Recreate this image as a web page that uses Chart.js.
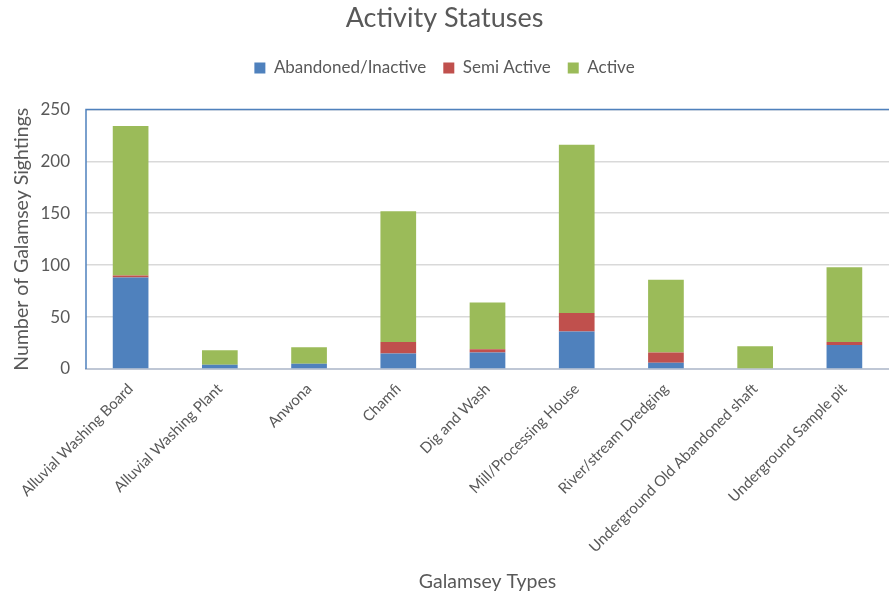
<!DOCTYPE html>
<html>
<head>
<meta charset="utf-8">
<script src="https://cdn.jsdelivr.net/npm/chart.js@4/dist/chart.umd.min.js"></script>
<style>
  html, body { margin: 0; padding: 0; background: #fff; }
</style>
</head>
<body>
<canvas id="chart" width="889" height="595"></canvas>
<script>
"use strict";

var categories = [
	'Alluvial Washing Board',
	'Alluvial Washing Plant',
	'Anwona',
	'Chamfi',
	'Dig and Wash',
	'Mill/Processing House',
	'River/stream Dredging',
	'Underground Old Abandoned shaft',
	'Underground Sample pit'
];
var abandoned = [88, 4, 5, 15, 16, 36, 6, 0, 23];
var semiActive = [2, 0, 0, 11, 3, 18, 10, 0, 3];
var active = [144, 14, 16, 126, 45, 162, 70, 22, 72];
var yTicks = [0, 50, 100, 150, 200, 250];

var textColor = '#595959';
var fontFamily = 'Lato, "Open Sans", sans-serif';

// blue frame on top/left like the excel chart
var frameLines = {
	id: 'frameLines',
	afterDraw: function (chart) {
		var a = chart.chartArea;
		var c = chart.ctx;
		c.save();
		c.strokeStyle = '#4f81bd';
		c.lineWidth = 1.5;
		c.beginPath();
		c.moveTo(a.left, a.bottom);
		c.lineTo(a.left, a.top);
		c.lineTo(a.right, a.top);
		c.stroke();
		c.restore();
	}
};

// extra room under the legend
var legendMargin = {
	id: 'legendMargin',
	beforeInit: function (chart) {
		var fit = chart.legend.fit;
		chart.legend.fit = function () {
			fit.bind(chart.legend)();
			this.height += 23;
		};
	}
};

const context = document.getElementById('chart');
const myChart = new Chart(context, {
	type: 'bar',
	data: {
		labels: categories,
		datasets: [{
			label: 'Abandoned/Inactive',
			data: abandoned,
			backgroundColor: '#4f81bd'
		}, {
			label: 'Semi Active',
			data: semiActive,
			backgroundColor: '#c0504d'
		}, {
			label: 'Active',
			data: active,
			backgroundColor: '#9bbb59'
		}]
	},
	options: {
		responsive: false,
		animation: false,
		layout: { padding: { top: 0, right: 0, bottom: 0, left: 0 } },
		datasets: {
			bar: { barPercentage: 0.4, categoryPercentage: 1 }
		},
		plugins: {
			title: {
				display: true,
				text: 'Activity Statuses',
				color: textColor,
				font: { family: fontFamily, size: 27, weight: 'normal' },
				padding: { top: 2, bottom: 8 }
			},
			legend: {
				labels: {
					color: textColor,
					font: { family: fontFamily, size: 17 },
					boxWidth: 11,
					boxHeight: 11,
					padding: 17
				}
			},
			tooltip: { enabled: false }
		},
		scales: {
			x: {
				stacked: true,
				grid: { display: false },
				border: { color: '#bfc7d5', width: 2 },
				ticks: {
					color: textColor,
					font: { family: fontFamily, size: 15 },
					minRotation: 45,
					maxRotation: 45,
					autoSkip: false
				},
				title: {
					display: true,
					text: 'Galamsey Types',
					color: textColor,
					font: { family: fontFamily, size: 19.5 },
					padding: { top: 0, bottom: 2 }
				},
				afterFit: function (scale) { scale.height = 226; }
			},
			y: {
				stacked: true,
				min: 0,
				max: 250,
				afterBuildTicks: function (scale) {
					scale.ticks = yTicks.map(function (v) { return { value: v }; });
				},
				grid: {
					color: '#d9d9d9',
					lineWidth: 1.5,
					drawTicks: false
				},
				border: { display: false },
				ticks: {
					color: textColor,
					font: { family: fontFamily, size: 17 },
					padding: 16
				},
				title: {
					display: true,
					text: 'Number of Galamsey Sightings',
					color: textColor,
					font: { family: fontFamily, size: 19.5 },
					padding: { top: 10, bottom: 0 }
				},
				afterFit: function (scale) { scale.width = 86; }
			}
		}
	},
	plugins: [frameLines, legendMargin]
});
</script>
</body>
</html>
